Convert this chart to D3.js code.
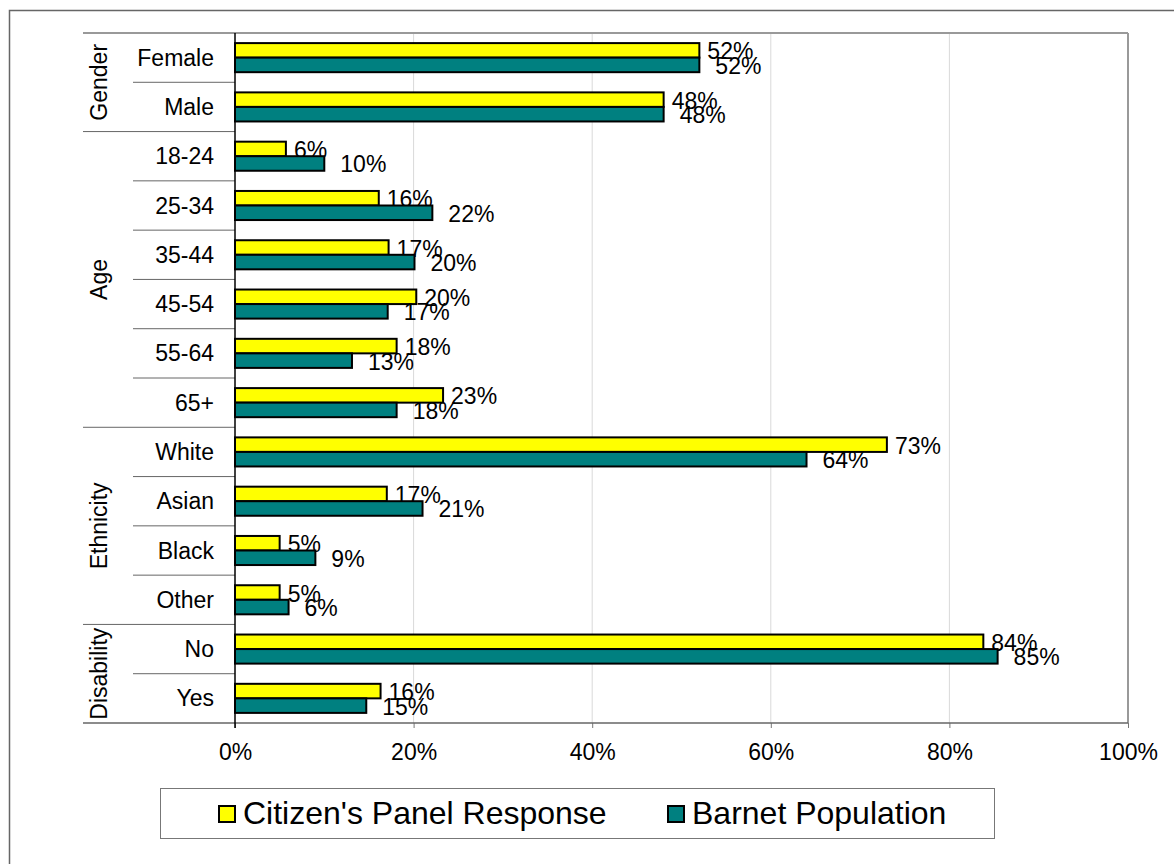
<!DOCTYPE html>
<html>
<head>
<meta charset="utf-8">
<script src="https://cdn.jsdelivr.net/npm/d3@7"></script>
<style>
  html, body { margin: 0; padding: 0; background: #fff; }
  svg { display: block; font-family: "Liberation Sans", Arial, sans-serif; }
</style>
</head>
<body>
<svg id="chart" width="1174" height="864"></svg>
<script>
// ---- Data ----
const groups = ["Gender", "Age", "Ethnicity", "Disability"];
const categories = ["Female", "Male", "18-24", "25-34", "35-44", "45-54", "55-64", "65+",
                    "White", "Asian", "Black", "Other", "No", "Yes"];
const categoryGroup = ["Gender", "Gender", "Age", "Age", "Age", "Age", "Age", "Age",
                       "Ethnicity", "Ethnicity", "Ethnicity", "Ethnicity", "Disability", "Disability"];
const panelResponse = [0.52, 0.48, 0.057, 0.161, 0.172, 0.203, 0.181, 0.233, 0.73, 0.17, 0.05, 0.05, 0.838, 0.163];
const barnetPopulation = [0.52, 0.48, 0.10, 0.221, 0.201, 0.171, 0.131, 0.181, 0.64, 0.21, 0.09, 0.06, 0.854, 0.147];
const seriesNames = ["Citizen's Panel Response", "Barnet Population"];
const xTicks = [0, 0.2, 0.4, 0.6, 0.8, 1.0];

// ---- Layout ----
const svg = d3.select("#chart");
const plot = { left: 235, right: 1128, top: 33, bottom: 723 };
const colors = ["#FFFF00", "#008080"];

const x = d3.scaleLinear().domain([0, 1]).range([plot.left, plot.right]);
const y = d3.scaleBand().domain(categories).range([plot.top, plot.bottom]).padding(0);
const bw = y.bandwidth();
const fmt = d3.format(".0%");

// outer chart border
svg.append("rect").attr("x", 9.5).attr("y", 10.5).attr("width", 1200).attr("height", 900)
  .attr("fill", "none").attr("stroke", "#666").attr("stroke-width", 1.5);

// gridlines
svg.append("g").selectAll("line").data(xTicks.filter(d => d > 0 && d < 1)).join("line")
  .attr("x1", d => x(d)).attr("x2", d => x(d))
  .attr("y1", plot.top).attr("y2", plot.bottom)
  .attr("stroke", "#d9d9d9").attr("stroke-width", 1);

// plot border top/right (gray)
svg.append("line").attr("x1", 83).attr("x2", plot.right).attr("y1", plot.top).attr("y2", plot.top)
  .attr("stroke", "#999").attr("stroke-width", 2);
svg.append("line").attr("x1", plot.right).attr("x2", plot.right).attr("y1", plot.top).attr("y2", plot.bottom)
  .attr("stroke", "#999").attr("stroke-width", 2);

// x axis
const xAxis = d3.axisBottom(x).tickValues(xTicks).tickFormat(fmt).tickSize(5).tickPadding(16);
const gx = svg.append("g").attr("transform", `translate(0,${plot.bottom})`).call(xAxis);
gx.select(".domain").remove();
gx.selectAll(".tick line").attr("stroke", "#777");
gx.selectAll(".tick text").attr("font-size", 23).attr("fill", "#000")
  .attr("font-family", "'Liberation Sans', Arial, sans-serif");
svg.append("line").attr("x1", 83).attr("x2", plot.right).attr("y1", plot.bottom).attr("y2", plot.bottom)
  .attr("stroke", "#666").attr("stroke-width", 1.5);

// category separators
const boundaries = categories.map((c, i) => i).filter(i => i > 0);
svg.append("g").selectAll("line").data(boundaries).join("line")
  .attr("x1", i => categoryGroup[i] !== categoryGroup[i - 1] ? 83 : 133)
  .attr("x2", plot.left)
  .attr("y1", i => y(categories[i])).attr("y2", i => y(categories[i]))
  .attr("stroke", "#666").attr("stroke-width", 1);

// category labels
svg.append("g").selectAll("text").data(categories).join("text")
  .attr("x", 214).attr("y", d => y(d) + bw / 2)
  .attr("text-anchor", "end").attr("dominant-baseline", "central")
  .attr("font-size", 23).text(d => d);

// group labels
groups.forEach(g => {
  const idx = categories.map((c, i) => i).filter(i => categoryGroup[i] === g);
  const y0 = y(categories[idx[0]]);
  const y1 = y(categories[idx[idx.length - 1]]) + bw;
  const cy = (y0 + y1) / 2;
  svg.append("text")
    .attr("transform", `translate(99,${cy}) rotate(-90)`)
    .attr("text-anchor", "middle").attr("dominant-baseline", "central")
    .attr("font-size", 23).text(g);
});

// bars
const series = [panelResponse, barnetPopulation];
const barOff = [0.205, 0.5];
const barH = 0.295;
const labelDx = [8, 16];
series.forEach((vals, s) => {
  const g = svg.append("g");
  g.selectAll("rect").data(categories).join("rect")
    .attr("x", x(0)).attr("y", (d) => y(d) + bw * barOff[s])
    .attr("width", (d, i) => x(vals[i]) - x(0)).attr("height", bw * barH)
    .attr("fill", colors[s]).attr("stroke", "#000").attr("stroke-width", 2);
  g.selectAll("text").data(categories).join("text")
    .attr("x", (d, i) => x(vals[i]) + labelDx[s])
    .attr("y", d => y(d) + bw * (barOff[s] + barH / 2) + 1)
    .attr("dominant-baseline", "central")
    .attr("font-size", 23).text((d, i) => fmt(vals[i]));
});

// left axis line
svg.append("line").attr("x1", plot.left).attr("x2", plot.left).attr("y1", plot.top).attr("y2", plot.bottom + 5)
  .attr("stroke", "#000").attr("stroke-width", 1.5);

// legend
const lg = svg.append("g");
lg.append("rect").attr("x", 160.5).attr("y", 788.5).attr("width", 834).attr("height", 50)
  .attr("fill", "#fff").attr("stroke", "#777").attr("stroke-width", 1);
const legendX = [219, 668];
seriesNames.forEach((name, s) => {
  lg.append("rect").attr("x", legendX[s]).attr("y", 806).attr("width", 16).attr("height", 16)
    .attr("fill", colors[s]).attr("stroke", "#000").attr("stroke-width", 2);
  lg.append("text").attr("x", legendX[s] + 24).attr("y", 824)
    .attr("font-size", 32).text(name);
});
</script>
</body>
</html>
